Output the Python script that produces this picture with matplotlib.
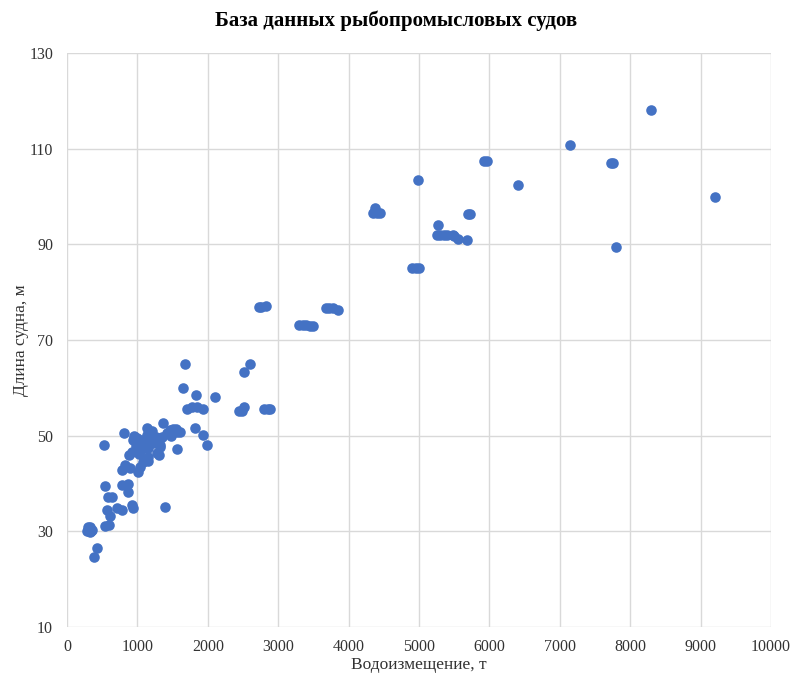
import numpy as np
import matplotlib.pyplot as plt

plt.rcParams['font.family'] = ['Liberation Serif', 'DejaVu Serif']

# Водоизмещение, т
displacement = [
    # small vessels cluster
    280, 300, 320, 340, 360, 300, 330, 385, 430,
    540, 600, 565, 610, 585, 635, 540, 705, 775,
    920, 940, 1390, 775, 870, 870, 825, 775, 895, 1015, 1040,
    920, 885, 1155, 1275, 1155, 1085, 1155, 1300, 1320,
    990, 1060, 1090, 1225, 1320, 1560, 940, 950, 810, 1130, 1200,
    1370, 1460, 1560, 1415, 530, 1000, 1180, 1250, 1480, 1100,
    1140, 1210, 1260, 1050, 980, 1350, 1430, 1510, 1120, 1020,
    # medium
    1550, 1600, 1650, 1680, 1830, 2100, 1700, 1780, 1850, 1930,
    1820, 1930, 1990, 2450, 2490, 2510, 2800, 2850, 2880, 2520, 2600,
    2720, 2760, 2830,
    3300, 3350, 3400, 3450, 3500, 3680, 3720, 3780, 3850,
    # large
    4900, 4950, 5000, 4350, 4400, 4450, 4380, 4980,
    5260, 5300, 5350, 5400, 5480, 5500, 5550, 5680, 5270,
    5700, 5720, 5920, 5960, 6400, 7150, 7720, 7760, 7800, 8290, 9200,
]
# Длина судна, м
length = [
    30.0, 30.2, 31.0, 30.0, 30.2, 30.8, 29.8, 24.7, 26.6,
    31.1, 31.3, 34.5, 33.2, 37.2, 37.2, 39.5, 34.8, 34.5,
    35.5, 34.8, 35.0, 39.7, 39.8, 38.3, 43.9, 42.8, 43.2, 42.5, 43.5,
    46.6, 46.0, 47.4, 46.4, 45.6, 44.4, 44.6, 46.0, 47.6,
    48.4, 49.0, 48.3, 48.4, 48.0, 47.3, 49.0, 50.0, 50.5, 51.6, 50.8,
    52.6, 51.2, 50.8, 50.5, 48.0, 49.5, 49.6, 49.3, 50.0, 45.0,
    50.2, 51.0, 49.8, 47.0, 47.8, 49.8, 50.6, 51.4, 48.8, 46.2,
    51.3, 50.8, 60.0, 65.0, 58.6, 58.0, 55.6, 55.9, 55.9, 55.5,
    51.7, 50.1, 48.0, 55.2, 55.2, 56.0, 55.6, 55.6, 55.6, 63.3, 65.0,
    77.0, 77.0, 77.2,
    73.1, 73.1, 73.1, 73.0, 73.0, 76.6, 76.6, 76.6, 76.3,
    85.0, 85.0, 85.0, 96.5, 96.5, 96.5, 97.6, 103.5,
    92.0, 92.0, 92.0, 92.0, 92.0, 91.7, 91.2, 91.0, 94.0,
    96.4, 96.4, 107.5, 107.5, 102.5, 110.8, 107.0, 107.0, 89.5, 118.0, 99.8,
]

fig = plt.figure(figsize=(7.93, 6.77), dpi=100)
ax = fig.add_axes([0.0845, 0.0739, 0.8878, 0.8478])

ax.scatter(displacement, length, s=58, color='#4472C4', zorder=3, linewidths=0)

ax.set_xlim(0, 10000)
ax.set_ylim(10, 130)
ax.set_xticks(np.arange(0, 10001, 1000))
ax.set_yticks(np.arange(10, 131, 20))
ax.grid(True, color='#D9D9D9', linewidth=1)
ax.set_axisbelow(True)
for s in ax.spines.values():
    s.set_visible(False)
ax.tick_params(length=0, labelsize=11.5, colors='#333333')
ax.tick_params(axis='x', pad=9)
ax.tick_params(axis='y', pad=10)

ax.set_xlabel('Водоизмещение, т', fontsize=12.5, color='#333333', labelpad=1)
ax.set_ylabel('Длина судна, м', fontsize=12.5, color='#333333', labelpad=0)
fig.suptitle('База данных рыбопромысловых судов', fontsize=15, fontweight='bold', y=0.985)

fig.savefig('out.png', dpi=100)
